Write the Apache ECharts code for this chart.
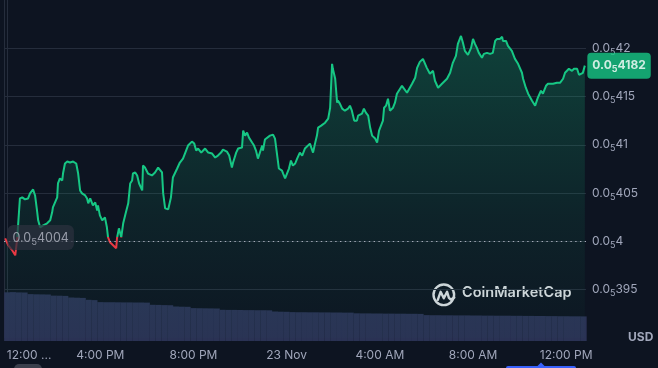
<!DOCTYPE html>
<html><head><meta charset="utf-8">
<script src="https://cdn.jsdelivr.net/npm/echarts@6/dist/echarts.min.js"></script>
<style>html,body{margin:0;padding:0;background:#0d1421;}#c{width:658px;height:368px;}</style>
</head><body><div id="c"></div>
<script>
// minutes after 12:00 PM, 22 Nov
const times = [-5,3,13,21,26,33,39,46,51,54,59,67,72,77,80,85,90,93,103,106,111,116,118,129,131,136,142,144,149,155,162,170,178,183,188,193,201,206,209,214,221,227,232,234,239,245,252,257,260,265,273,281,283,288,294,299,306,312,317,322,324,330,335,340,348,350,355,363,373,381,389,399,402,407,415,422,427,438,445,453,461,466,476,482,487,492,500,505,510,518,528,536,543,551,556,566,572,579,582,590,595,605,608,613,618,623,631,636,641,646,651,657,659,664,669,677,685,690,695,700,708,711,716,721,726,731,736,742,747,754,760,767,772,780,788,793,798,801,809,814,819,827,832,837,839,845,850,852,857,863,870,878,883,888,894,901,904,914,919,924,930,935,940,948,953,958,963,968,971,976,981,986,994,999,1004,1009,1017,1022,1030,1033,1043,1045,1051,1056,1063,1071,1081,1089,1097,1102,1110,1120,1133,1141,1148,1156,1161,1169,1174,1179,1187,1195,1200,1205,1210,1215,1223,1228,1236,1244,1251,1257,1262,1269,1275,1277,1285,1290,1300,1308,1316,1326,1329,1336,1342,1352,1360,1367,1375,1380,1388,1393,1406,1416,1424,1432,1437,1442,1447,1455,1460,1468,1473,1483,1488];
// price in units of 1e-6 USD (0.0_5xxxx)
const prices = [4.0031,3.9959,3.9907,3.9855,4.0031,4.0444,4.0455,4.0434,4.0424,4.0444,4.0496,4.0537,4.0475,4.0320,4.0217,4.0145,4.0134,4.0165,4.0186,4.0196,4.0217,4.0300,4.0351,4.0455,4.0599,4.0651,4.0630,4.0702,4.0806,4.0826,4.0816,4.0826,4.0806,4.0702,4.0527,4.0496,4.0475,4.0444,4.0393,4.0444,4.0372,4.0403,4.0320,4.0372,4.0269,4.0217,4.0248,4.0145,4.0041,3.9990,3.9959,3.9928,4.0031,4.0134,4.0041,4.0186,4.0300,4.0393,4.0599,4.0630,4.0702,4.0713,4.0682,4.0599,4.0527,4.0785,4.0764,4.0702,4.0682,4.0713,4.0764,4.0713,4.0496,4.0341,4.0331,4.0455,4.0661,4.0754,4.0816,4.0857,4.0940,4.0992,4.1033,4.1012,4.0940,4.0961,4.0919,4.0940,4.0961,4.0919,4.0909,4.0868,4.0888,4.0919,4.0950,4.0930,4.0888,4.0764,4.0816,4.0919,4.0961,4.0971,4.1147,4.1095,4.1126,4.1074,4.1023,4.0992,4.0940,4.0857,4.0868,4.0992,4.0940,4.1054,4.1064,4.1095,4.1105,4.1064,4.0909,4.0754,4.0733,4.0702,4.0651,4.0661,4.0754,4.0837,4.0785,4.0806,4.0857,4.0919,4.0888,4.0961,4.0981,4.1012,4.0919,4.1012,4.1095,4.1178,4.1198,4.1178,4.1229,4.1271,4.1384,4.1839,4.1787,4.1684,4.1436,4.1457,4.1426,4.1374,4.1353,4.1374,4.1405,4.1353,4.1250,4.1250,4.1302,4.1322,4.1374,4.1333,4.1302,4.1178,4.1095,4.1064,4.1023,4.1147,4.1147,4.1250,4.1384,4.1405,4.1477,4.1353,4.1384,4.1436,4.1529,4.1529,4.1611,4.1591,4.1539,4.1539,4.1632,4.1642,4.1694,4.1797,4.1859,4.1890,4.1797,4.1735,4.1766,4.1663,4.1591,4.1632,4.1684,4.1746,4.1849,4.1921,4.2045,4.2128,4.2056,4.1973,4.1932,4.2004,4.2097,4.2045,4.2004,4.1952,4.1901,4.1942,4.1952,4.1942,4.1952,4.2076,4.2097,4.2097,4.2118,4.2076,4.2076,4.2025,4.1973,4.1890,4.1839,4.1746,4.1684,4.1591,4.1529,4.1457,4.1405,4.1488,4.1560,4.1529,4.1611,4.1632,4.1632,4.1642,4.1642,4.1684,4.1746,4.1766,4.1787,4.1766,4.1787,4.1787,4.1725,4.1746,4.1820];
// volume per 15-minute step (relative units)
const volumeStep = 15;
const volumes = [48.7,48.9,48.6,48.5,46.9,46.7,46.6,46.5,45.4,45.3,45.1,43.5,43.3,43.1,41.2,40.9,38.9,38.8,38.8,38.7,38.6,38.6,38.5,38.5,38.4,36.2,36.1,35.9,35.8,34.5,34.3,34.2,32.9,32.8,32.7,32.6,32.5,31.2,31.1,31.1,31.0,30.9,30.9,30.8,30.8,30.7,29.5,29.3,29.2,28.9,28.8,28.8,28.7,28.7,28.6,28.6,28.5,28.5,28.4,28.4,27.7,27.6,27.6,27.5,27.5,27.4,27.4,27.3,27.3,27.2,27.2,27.1,25.9,25.8,25.8,25.7,25.7,25.6,25.6,25.6,25.5,25.5,25.4,25.4,25.3,25.3,25.3,25.2,25.2,25.1,25.1,25.0,25.0,24.9,24.9,24.8,24.8,24.7,24.7,24.6];
const tickValues = [0,240,480,720,960,1200,1440];
const tickLabels = ['12:00 ...','4:00 PM','8:00 PM','23 Nov','4:00 AM','8:00 AM','12:00 PM'];
const refPrice = 4.004;

const X_MIN = -8, X_MAX = 1491;
const n = Math.min(times.length, prices.length);
const lineData = [];
for (let i = 0; i < n; i++) lineData.push([times[i], prices[i]]);
const lastPrice = prices[n - 1], lastTime = times[n - 1];
const volData = volumes.map((v, i) => [i * volumeStep, v]);

const FONT = 'Inter, "Noto Sans", sans-serif';
const GRAY = '#a1a7bb';
const GRID = '#252d3c';

function digits(v) { return String(Math.round(v * 1000)).replace(/0+$/, ''); }
function priceRich(v) { return '{a|0.0}{s|5}{a|' + digits(v) + '}'; }
function rich(color, weight, size) {
  size = size || 12;
  return {
    a: { fontSize: size, lineHeight: 14, color: color, fontFamily: FONT, fontWeight: weight },
    s: { fontSize: size - 3, lineHeight: 14, padding: [8, 0, 0, 0], color: color, fontFamily: FONT, fontWeight: weight }
  };
}

const chart = echarts.init(document.getElementById('c'), null, { renderer: 'canvas' });
chart.setOption({
  backgroundColor: '#0d1421',
  animation: false,
  grid: [
    { left: 4, right: 72, top: -1, bottom: 30.2 },
    { left: 4, right: 72, top: 241, bottom: 27 }
  ],
  xAxis: [
    { type: 'value', gridIndex: 0, min: X_MIN, max: X_MAX, show: false },
    { type: 'value', gridIndex: 1, min: X_MIN, max: X_MAX,
      axisLine: { show: false }, axisTick: { show: false }, splitLine: { show: false },
      axisLabel: {
        customValues: tickValues, margin: 8, color: GRAY, fontSize: 12, fontFamily: FONT,
        formatter: function (v) {
          const i = tickValues.indexOf(v);
          if (i < 0) return '';
          if (i === 0) return '{f|' + tickLabels[0] + '}';
          return tickLabels[i];
        },
        rich: { f: { fontSize: 12, color: GRAY, fontFamily: FONT, padding: [0, 0, 0, 44] } }
      } }
  ],
  yAxis: [
    { type: 'value', gridIndex: 0, position: 'right', min: 3.9, max: 4.25, interval: 0.05,
      axisLine: { show: true, lineStyle: { color: GRID } }, axisTick: { show: false },
      splitLine: { show: true, showMinLine: false, showMaxLine: false, lineStyle: { color: GRID } },
      axisLabel: {
        margin: 6, color: GRAY,
        formatter: function (v) { if (v < 3.94 || v > 4.22) return ''; return priceRich(v); },
        rich: rich(GRAY, 400)
      } },
    { type: 'value', gridIndex: 0, position: 'left', min: 3.9, max: 4.25,
      axisLine: { show: true, lineStyle: { color: GRID } }, axisTick: { show: false },
      axisLabel: { show: false }, splitLine: { show: false } },
    { type: 'value', gridIndex: 1, min: 0, max: 100, show: false }
  ],
  visualMap: {
    type: 'piecewise', show: false, seriesIndex: 0, dimension: 1,
    pieces: [{ gt: 3.5, lt: refPrice, color: '#ea3943' }, { gte: refPrice, lte: 4.5, color: '#16c784' }]
  },
  series: [
    { type: 'line', xAxisIndex: 0, yAxisIndex: 0, data: lineData, showSymbol: false, z: 3,
      lineStyle: { width: 2 },
      areaStyle: { color: new echarts.graphic.LinearGradient(0, 0, 0, 1, [
        { offset: 0, color: 'rgba(22,199,132,0.36)' },
        { offset: 0.6, color: 'rgba(22,199,132,0.12)' },
        { offset: 1, color: 'rgba(22,199,132,0.02)' }]) },
      markLine: { silent: true, symbol: 'none', label: { show: false },
        lineStyle: { type: [1.4, 3.4], color: '#a6abb8', width: 1.2 },
        data: [{ yAxis: refPrice }] } },
    { type: 'bar', xAxisIndex: 1, yAxisIndex: 2, data: volData, barWidth: 6, z: 2,
      itemStyle: { color: '#2a3254' } },
    { type: 'scatter', xAxisIndex: 0, yAxisIndex: 0, symbolSize: 1, z: 10, clip: false,
      itemStyle: { color: 'rgba(0,0,0,0)' },
      data: [
        { value: [X_MIN, refPrice], label: { show: true, position: 'right', distance: 3,
          formatter: priceRich(refPrice), backgroundColor: 'rgba(44,49,62,0.92)', borderRadius: 6,
          padding: [6, 5, 5, 5], rich: rich('#b4b8c4', 400, 12.5) } },
        { value: [lastTime, lastPrice], label: { show: true, position: 'right', distance: 2,
          formatter: priceRich(lastPrice), backgroundColor: '#16c784', borderRadius: 4,
          padding: [6, 5, 6, 5], rich: rich('#ffffff', 700) } }
      ] }
  ],
  graphic: [
    { type: 'group', left: 431, top: 282, silent: true, children: [
      { type: 'circle', shape: { cx: 11.5, cy: 11.5, r: 10.3 }, style: { fill: 'none', stroke: '#d4d6dc', lineWidth: 2.4 } },
      { type: 'polyline', shape: { points: [[5.5, 16.5], [8.3, 8.5], [11.5, 15], [14.8, 8.5], [16.6, 14.5], [18.5, 16.2], [22, 14.2]] },
        style: { fill: 'none', stroke: '#d4d6dc', lineWidth: 2.4, lineJoin: 'round', lineCap: 'round' } }
    ] },
    { type: 'text', left: 462, top: 285, silent: true,
      style: { text: 'CoinMarketCap', fill: '#d4d6dc', font: '600 14.5px ' + FONT } },
    { type: 'text', left: 628, top: 331, silent: true,
      style: { text: 'USD', fill: GRAY, font: '700 12px ' + FONT } },
    { type: 'rect', left: 14, top: 364, silent: true, shape: { width: 28, height: 10, r: 5 }, style: { fill: '#3a3f4c' } },
    { type: 'rect', left: 506, top: 366, silent: true, shape: { width: 70, height: 4, r: 2 }, style: { fill: '#3861fb' } },
    { type: 'polygon', silent: true, shape: { points: [[537, 366.5], [541, 362.5], [545, 366.5]] }, style: { fill: '#3861fb' } }
  ]
});
</script></body></html>
